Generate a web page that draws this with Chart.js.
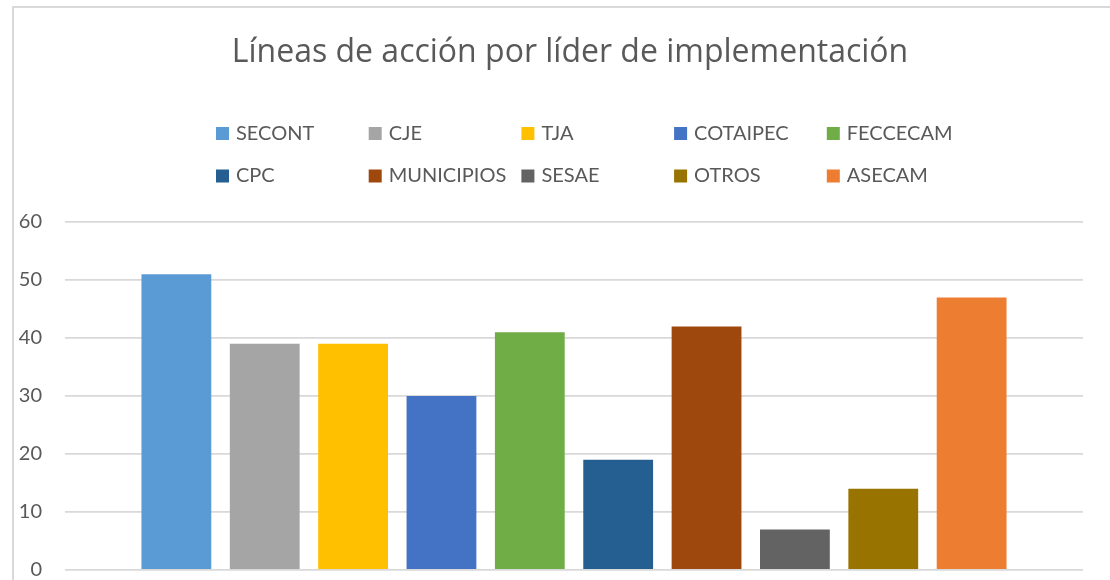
<!DOCTYPE html>
<html>
<head>
<meta charset="utf-8">
<script src="https://cdn.jsdelivr.net/npm/chart.js@4.4.0/dist/chart.umd.min.js"></script>
<style>
  body { margin: 0; background: #fff; overflow: hidden; }
  #wrap { position: relative; width: 1110px; height: 580px; overflow: hidden; }
  #marco { position: absolute; left: 12px; top: 6px; width: 1200px; height: 700px; border: 2px solid #d9d9d9; box-sizing: border-box; }
  canvas { position: absolute; left: 0; top: 0; }
</style>
</head>
<body>
<div id="wrap">
  <div id="marco"></div>
  <canvas id="grafico" width="1110" height="605"></canvas>
</div>
<script>
// datos
const titulo = 'Líneas de acción por líder de implementación';
const lideres = ['SECONT', 'CJE', 'TJA', 'COTAIPEC', 'FECCECAM', 'CPC', 'MUNICIPIOS', 'SESAE', 'OTROS', 'ASECAM'];
const lineas = [51, 39, 39, 30, 41, 19, 42, 7, 14, 47];
const colores = ['#5B9BD5', '#A5A5A5', '#FFC000', '#4472C4', '#70AD47', '#255E91', '#9E480E', '#636363', '#997300', '#ED7D31'];
const ticksY = [0, 10, 20, 30, 40, 50, 60];

const gris = '#595959';

// titulo y leyenda en rejilla (como Excel)
const leyendaExcel = {
    id: 'leyendaExcel',
    afterDraw(chart) {
        const ctx = chart.ctx;
        ctx.save();
        ctx.fillStyle = gris;
        ctx.font = '32px "Open Sans"';
        ctx.textAlign = 'center';
        ctx.textBaseline = 'alphabetic';
        ctx.fillText(titulo, 570, 62);

        ctx.font = '20px Lato';
        ctx.textAlign = 'left';
        ctx.textBaseline = 'middle';
        chart.data.datasets.forEach((ds, i) => {
            const col = i % 5, fila = Math.floor(i / 5);
            const x = 216 + col * 152.7;
            const y = 133.5 + fila * 42.5;
            ctx.fillStyle = ds.backgroundColor;
            ctx.fillRect(x, y - 6.5, 13, 13);
            ctx.fillStyle = gris;
            ctx.fillText(ds.label, x + 20, y);
        });
        ctx.restore();
    }
};

const datasets = lideres.map((l, i) => ({
    label: l,
    data: [lineas[i]],
    backgroundColor: colores[i],
    borderWidth: 0
}));

new Chart(document.getElementById('grafico'), {
    type: 'bar',
    data: { labels: [''], datasets: datasets },
    options: {
        responsive: false,
        animation: false,
        categoryPercentage: 0.868,
        barPercentage: 0.79,
        layout: { padding: { top: 222, right: 27, bottom: 0, left: 0 } },
        plugins: {
            legend: { display: false },
            title: { display: false },
            tooltip: { enabled: false }
        },
        scales: {
            x: { display: false },
            y: {
                min: ticksY[0],
                max: ticksY[ticksY.length - 1],
                afterFit(axis) { axis.width = 65; },
                afterBuildTicks(axis) { axis.ticks = ticksY.map(v => ({ value: v })); },
                border: { display: false },
                grid: { color: '#d9d9d9', lineWidth: 1.8, drawTicks: false },
                ticks: { color: gris, font: { family: 'Lato', size: 20 }, padding: 23 }
            }
        }
    },
    plugins: [leyendaExcel]
});
</script>
</body>
</html>
